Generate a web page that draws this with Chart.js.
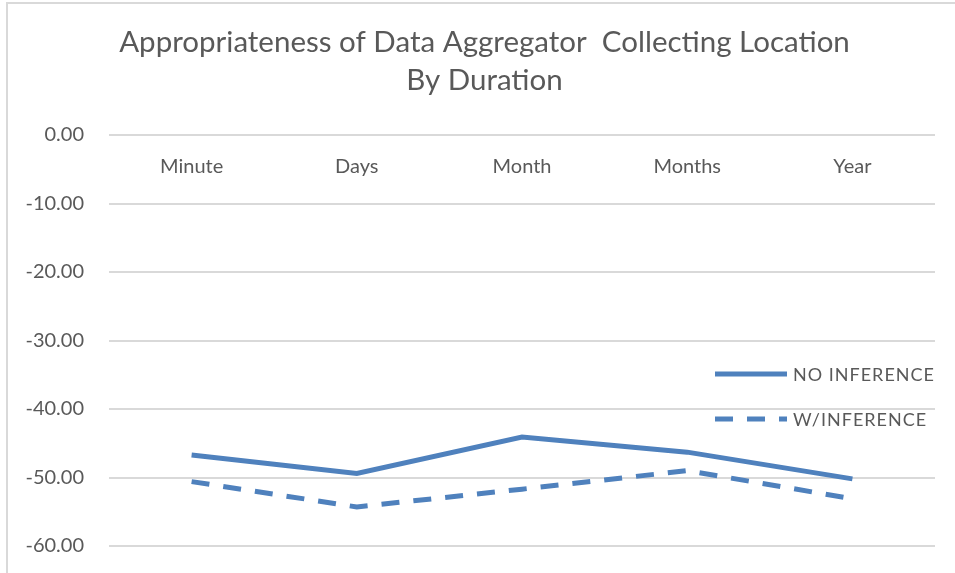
<!DOCTYPE html>
<html>
<head>
<meta charset="utf-8">
<script src="https://cdn.jsdelivr.net/npm/chart.js@4"></script>
<style>
  body { margin: 0; background: #fff; overflow: hidden; }
  #caixa {
    position: absolute; left: 6px; top: 2px;
    width: 947px; height: 569px;
    border: 2px solid #d9d9d9;
  }
</style>
</head>
<body>
<div id="caixa"><canvas id="grafic"></canvas></div>
<script>
const categories = ['Minute', 'Days', 'Month', 'Months', 'Year'];
const noInference = [-46.7, -49.4, -44.1, -46.3, -50.2];
const ambInference = [-50.6, -54.3, -51.7, -49.0, -53.1];
const titol = ['Appropriateness of Data Aggregator  Collecting Location', 'By Duration'];

const blau = '#4f81bd';
const gris = '#595959';
const font = 'Lato, "Open Sans", sans-serif';

// llegenda dins de l'area del grafic, com a Excel
const llegenda = {
    id: 'llegenda',
    afterDraw(chart) {
        const ctx = chart.ctx;
        const x0 = 707, x1 = 779, xt = 785;
        const ys = [370, 415];
        ctx.save();
        chart.data.datasets.forEach((ds, i) => {
            ctx.strokeStyle = ds.borderColor;
            ctx.lineWidth = ds.borderWidth;
            ctx.setLineDash(ds.borderDash || []);
            ctx.beginPath();
            ctx.moveTo(x0, ys[i]);
            ctx.lineTo(x1, ys[i]);
            ctx.stroke();
            ctx.setLineDash([]);
            ctx.fillStyle = gris;
            ctx.font = '18px ' + font;
            ctx.letterSpacing = '1px';
            ctx.textBaseline = 'middle';
            ctx.fillText(ds.label, xt, ys[i] + 1);
        });
        ctx.restore();
    }
};

new Chart(document.getElementById('grafic'), {
    type: 'line',
    data: {
        labels: categories,
        datasets: [{
            label: 'NO INFERENCE',
            data: noInference,
            borderColor: blau,
            backgroundColor: blau,
            borderWidth: 5,
            pointRadius: 0,
            tension: 0
        }, {
            label: 'W/INFERENCE',
            data: ambInference,
            borderColor: blau,
            backgroundColor: blau,
            borderWidth: 5,
            borderDash: [18, 14],
            pointRadius: 0,
            tension: 0
        }]
    },
    options: {
        responsive: true,
        maintainAspectRatio: false,
        animation: false,
        layout: { padding: { left: 6, right: 0, top: 0, bottom: 27 } },
        plugins: {
            legend: { display: false },
            tooltip: { enabled: false },
            title: {
                display: true,
                text: titol,
                color: gris,
                font: { family: font, size: 29.5, weight: 'normal', lineHeight: '38px' },
                padding: { top: 19, bottom: 36 }
            }
        },
        scales: {
            x: {
                position: { y: 0 },
                offset: true,
                grid: { display: false, drawTicks: false },
                border: { display: false },
                ticks: {
                    color: gris,
                    font: { family: font, size: 20 },
                    padding: 20,
                    autoSkip: false,
                    maxRotation: 0
                }
            },
            y: {
                min: -60,
                max: 0,
                afterFit(scale) {
                    scale.width = 95;
                    scale.paddingTop = 0;
                    scale.paddingBottom = 0;
                },
                grid: { color: '#d9d9d9', lineWidth: 2, drawTicks: false },
                border: { display: false },
                ticks: {
                    stepSize: 10,
                    color: gris,
                    font: { family: font, size: 20 },
                    padding: 25,
                    callback: v => v.toFixed(2)
                }
            },
            // eix buit a la dreta, nomes per deixar marge
            dreta: {
                position: 'right',
                grid: { display: false, drawTicks: false },
                border: { display: false },
                ticks: { display: false },
                afterFit(scale) {
                    scale.width = 20;
                    scale.paddingTop = 0;
                    scale.paddingBottom = 0;
                }
            }
        }
    },
    plugins: [llegenda]
});
</script>
</body>
</html>
